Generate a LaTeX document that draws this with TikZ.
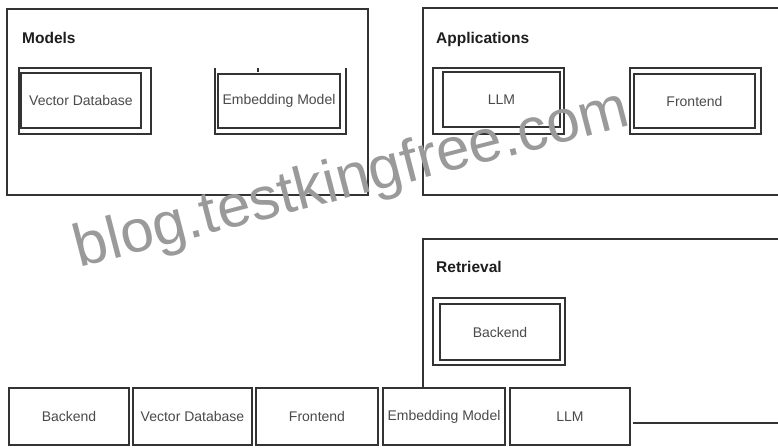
\documentclass[tikz,border=0pt]{standalone}
\usepackage{fontspec}
\setmainfont{Liberation Sans}
\definecolor{linec}{HTML}{333333}
\definecolor{labelc}{HTML}{4A4A4A}
\definecolor{titlec}{HTML}{1E1E1E}
\definecolor{wmc}{HTML}{9A9A9A}
\begin{document}
\begin{tikzpicture}[x=1pt,y=-1pt,
  frame/.style={draw=linec, line width=1.3pt},
  thin frame/.style={draw=linec, line width=1.1pt},
  grouptitle/.style={anchor=base west, inner sep=0pt, font=\fontsize{15.5}{18}\selectfont\bfseries, text=titlec},
  innerbox/.style={draw=linec, line width=1.1pt, inner sep=0pt, font=\fontsize{14}{16}\selectfont, text=labelc},
  rowbox/.style={draw=linec, line width=1.3pt, inner sep=0pt, minimum height=57pt, font=\fontsize{14}{16}\selectfont, text=labelc},
  wm/.style={font=\fontsize{60}{70}\selectfont, text=wmc, inner sep=0pt}]
\useasboundingbox[fill=white] (0,0) rectangle (778,447);

% ---- Models group
\draw[frame] (7,9) rectangle (368,195);
\node[grouptitle] (tModels) at (22,43) {Models};
\draw[thin frame] (19,68) rectangle (151,134);
\node[innerbox, minimum width=120pt, minimum height=55pt] (mvd) at (81,100.5) {Vector Database};
\draw[thin frame] (215,68) -- (215,134) -- (346,134) -- (346,68);
\draw[thin frame] (258,68) -- (258,72);
\node[innerbox, minimum width=122pt, minimum height=54pt] (mem) at (279,101) {Embedding Model};

% ---- Applications group
\draw[frame] (780,8) -- (423,8) -- (423,195) -- (780,195);
\node[grouptitle] (tApps) at (436,43) {Applications};
\draw[thin frame] (433,68) rectangle (564,134);
\node[innerbox, minimum width=117pt, minimum height=55pt] (allm) at (501.5,99.5) {LLM};
\draw[thin frame] (630,68) rectangle (761,134);
\node[innerbox, minimum width=121pt, minimum height=54pt] (afe) at (694.5,101) {Frontend};

% ---- Retrieval group
\draw[frame] (780,239) -- (423,239) -- (423,388);
\node[grouptitle] (tRet) at (436,272) {Retrieval};
\draw[thin frame] (433,298) rectangle (565,365);
\node[innerbox, minimum width=120pt, minimum height=56pt] (rbe) at (500,332) {Backend};

% ---- bottom row
\node[rowbox, minimum width=120pt] (b1) at (69,416.5) {Backend};
\node[rowbox, minimum width=119pt] (b2) at (192.5,416.5) {Vector Database};
\node[rowbox, minimum width=122pt] (b3) at (317,416.5) {Frontend};
\node[rowbox, minimum width=122pt] (b4) at (444,416.5) {Embedding Model};
\node[rowbox, minimum width=120pt] (b5) at (570,416.5) {LLM};
\coordinate (rend) at (780,423);
\draw[frame] (b5.east |- rend) ++(2,0) -- (rend);

% ---- watermark
\node[wm, rotate=14.5, anchor=base] (wmark) at (356,196) {blog.testkingfree.com};
\end{tikzpicture}
\end{document}
